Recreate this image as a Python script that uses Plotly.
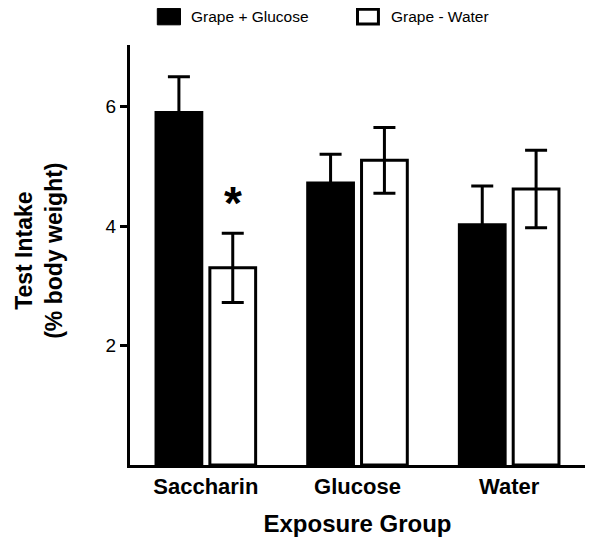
import plotly.graph_objects as go

categories = ["Saccharin", "Glucose", "Water"]
glucose_mean = [5.9, 4.72, 4.02]
glucose_err = [0.6, 0.48, 0.65]
water_mean = [3.3, 5.1, 4.62]
water_err = [0.58, 0.55, 0.65]
y_ticks = [2, 4, 6]
series_names = ["Grape + Glucose", "Grape - Water"]

FONT = "Liberation Sans, Arial, Helvetica, sans-serif"

fig = go.Figure()
fig.add_trace(go.Bar(
    x=categories, y=glucose_mean, name=series_names[0],
    marker=dict(color="black", line=dict(color="black", width=3)),
    error_y=dict(type="data", array=glucose_err, color="black", thickness=3, width=11),
    showlegend=False,
))
fig.add_trace(go.Bar(
    x=categories, y=water_mean, name=series_names[1],
    marker=dict(color="white", line=dict(color="black", width=3)),
    error_y=dict(type="data", array=water_err, color="black", thickness=3, width=11),
    showlegend=False,
))

# significance asterisk above Saccharin / Grape - Water
fig.add_annotation(
    x=categories[0], y=water_mean[0] + water_err[0] + 0.5, xref="x", yref="y",
    xshift=27, text="<b>*</b>", showarrow=False,
    font=dict(family=FONT, size=46, color="black"), yanchor="middle",
)

# manual legend
fig.add_shape(type="rect", xref="paper", yref="paper",
              x0=0.060, x1=0.111, y0=1.048, y1=1.087,
              fillcolor="black", line=dict(color="black", width=1))
fig.add_annotation(xref="paper", yref="paper", x=0.130, y=1.067, text=series_names[0],
                   showarrow=False, xanchor="left", yanchor="middle",
                   font=dict(family=FONT, size=15.5, color="black"))
fig.add_shape(type="rect", xref="paper", yref="paper",
              x0=0.500, x1=0.546, y0=1.050, y1=1.085,
              fillcolor="white", line=dict(color="black", width=3))
fig.add_annotation(xref="paper", yref="paper", x=0.569, y=1.067, text=series_names[1],
                   showarrow=False, xanchor="left", yanchor="middle",
                   font=dict(family=FONT, size=15.5, color="black"))

# y-axis title
fig.add_annotation(xref="paper", yref="paper", x=-0.20, y=0.51,
                   text="<b>Test Intake<br>(% body weight)</b>", textangle=-90,
                   showarrow=False, xanchor="center", yanchor="middle",
                   font=dict(family=FONT, size=23, color="black"))

# page body has an 8px margin; margins compensate so the plot area lands where the reference has it
fig.update_layout(
    width=600, height=546,
    margin=dict(l=122, r=23, t=37, b=89),
    paper_bgcolor="white", plot_bgcolor="white",
    barmode="group", bargap=0.29, bargroupgap=0.15,
    font=dict(family=FONT, color="black"),
    xaxis=dict(
        showline=True, linecolor="black", linewidth=3, ticks="",
        tickfont=dict(family=FONT, size=22, color="black"),
        ticklabelstandoff=0,
        title=dict(text="<b>Exposure Group</b>", font=dict(family=FONT, size=24, color="black"), standoff=17),
        tickvals=categories, ticktext=["<b>%s</b>" % c for c in categories],
        showgrid=False, zeroline=False,
    ),
    yaxis=dict(
        range=[0, 7.03], showline=True, linecolor="black", linewidth=3,
        ticks="outside", ticklen=7, tickwidth=3, tickcolor="black",
        tickvals=y_ticks, tickfont=dict(family=FONT, size=19, color="black"),
        showgrid=False, zeroline=False,
    ),
)

fig.write_html("out.html")
